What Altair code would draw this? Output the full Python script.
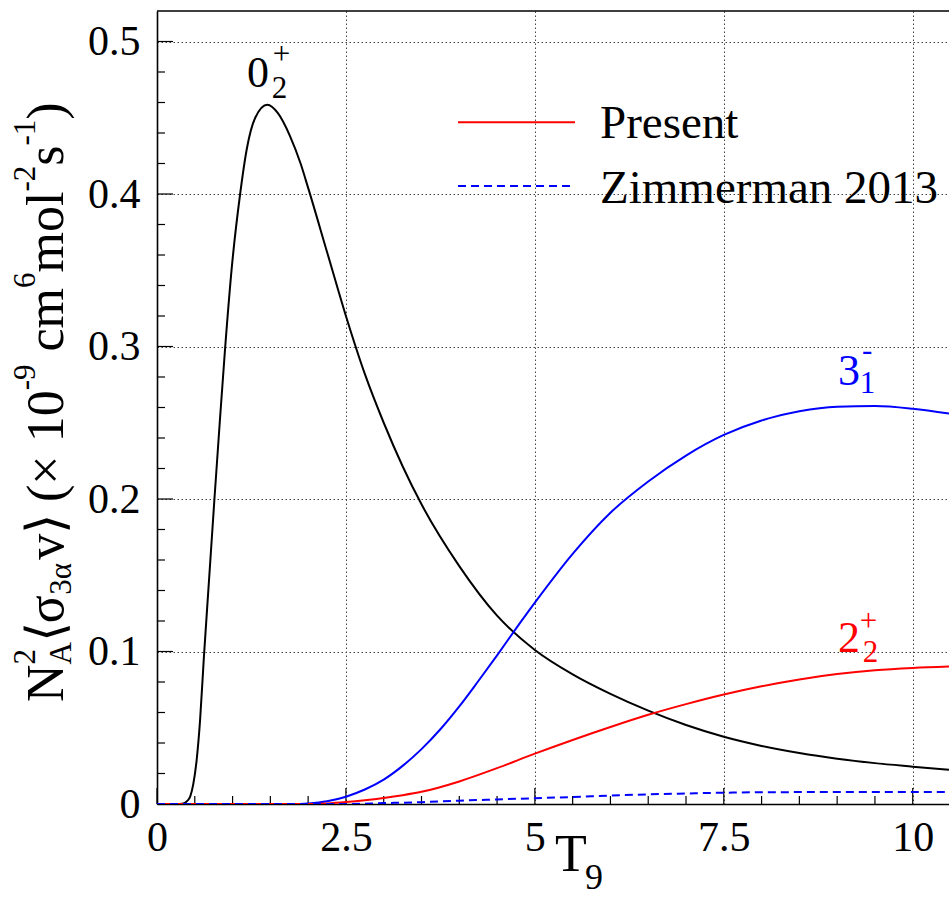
import altair as alt
import pandas as pd

SERIF = "Liberation Serif"

# Triple-alpha rate contributions versus temperature T9
t9_02 = [0.0, 0.30, 0.36, 0.40, 0.44, 0.48, 0.525, 0.57, 0.62, 0.69, 0.76, 0.83, 0.90,
         0.99, 1.10, 1.19, 1.30, 1.46, 1.60, 1.76, 1.90, 2.0, 2.25, 2.5, 2.75, 3.0, 3.25,
         3.5, 4.0, 4.5, 5.0, 5.5, 6.0, 6.5, 7.0, 7.5, 8.0, 8.5, 9.0, 9.5, 10.0, 10.48]
rate_02 = [0.0, 0.0, 0.0005, 0.002, 0.005, 0.013, 0.029, 0.055, 0.096, 0.148, 0.200, 0.250,
           0.298, 0.352, 0.400, 0.430, 0.450, 0.4585, 0.453, 0.438, 0.420, 0.404, 0.362,
           0.320, 0.282, 0.250, 0.2215, 0.1965, 0.156, 0.1235, 0.101, 0.0850, 0.0722,
           0.0612, 0.0518, 0.0441, 0.0381, 0.0334, 0.0297, 0.0268, 0.0245, 0.0224]

t9_31 = [0.0, 1.8, 2.0, 2.25, 2.5, 2.75, 3.0, 3.25, 3.5, 3.75, 4.0, 4.25, 4.5, 4.75, 5.0,
         5.5, 6.0, 6.5, 7.0, 7.5, 8.0, 8.5, 9.0, 9.5, 10.0, 10.48]
rate_31 = [0.0, 0.0, 0.0004, 0.0018, 0.0048, 0.0095, 0.0160, 0.0250, 0.0360, 0.0490,
           0.0640, 0.0805, 0.0975, 0.1150, 0.1320, 0.1640, 0.1910, 0.2115, 0.2285, 0.2420,
           0.2515, 0.2575, 0.2605, 0.2610, 0.2592, 0.2560]

t9_22 = [0.0, 2.0, 2.25, 2.5, 2.75, 3.0, 3.25, 3.5, 4.0, 4.5, 5.0, 5.5, 6.0, 6.5, 7.0, 7.5,
         8.0, 8.5, 9.0, 9.5, 10.0, 10.48]
rate_22 = [0.0, 0.0, 0.0004, 0.0013, 0.0025, 0.004, 0.0058, 0.008, 0.0148, 0.0235, 0.033,
           0.042, 0.0505, 0.0585, 0.0655, 0.0718, 0.0772, 0.0817, 0.0852, 0.0877, 0.0892,
           0.0901]

t9_z13 = [0.0, 2.5, 3.0, 3.5, 4.0, 4.5, 5.0, 5.5, 6.0, 6.5, 7.0, 7.5, 8.0, 8.5, 9.0, 10.0,
          10.48]
rate_z13 = [0.0, 0.0, 0.0006, 0.0012, 0.0022, 0.003, 0.0038, 0.0046, 0.0055, 0.0063,
            0.0069, 0.0074, 0.0077, 0.0078, 0.0079, 0.0079, 0.0079]

x_major = [0, 2.5, 5, 7.5, 10]
x_minor = [0.5, 1.0, 1.5, 2.0, 3.0, 3.5, 4.0, 4.5, 5.5, 6.0, 6.5, 7.0, 8.0, 8.5, 9.0, 9.5]
y_major = [0, 0.1, 0.2, 0.3, 0.4, 0.5]
y_minor = [0.02, 0.04, 0.06, 0.08, 0.12, 0.14, 0.16, 0.18, 0.22, 0.24, 0.26, 0.28,
           0.32, 0.34, 0.36, 0.38, 0.42, 0.44, 0.46, 0.48]

legend_names = ["Present", "Zimmerman 2013"]

W, H = 792, 793
XMAX, YMAX = 10.48, 0.52

x_scale = alt.Scale(domain=[0, XMAX], nice=False, zero=False)
y_scale = alt.Scale(domain=[0, YMAX], nice=False, zero=False)
one = pd.DataFrame({"k": [0]})

axis_common = dict(
    labelFont=SERIF, labelFontSize=42, labelColor="black", ticks=False,
    domainColor="black", domainWidth=1.6, grid=True, gridColor="#444",
    gridDash=[1.5, 2.5], gridWidth=1, title=None, labelOverlap=False,
    labelFlush=False, labelExpr="'' + datum.value",
)
x_axis = alt.Axis(values=x_major, labelPadding=13, **axis_common)
y_axis = alt.Axis(values=y_major, labelPadding=17, **axis_common)


def xq(field):
    return alt.X(field, type="quantitative", scale=x_scale, axis=x_axis)


def yq(field):
    return alt.Y(field, type="quantitative", scale=y_scale, axis=y_axis)


top_edge = alt.Chart(one).mark_rule(color="black", strokeWidth=1.6).encode(
    x=alt.value(0), x2=alt.value(W), y=alt.value(0))


def x_ticks(vals, length):
    return alt.Chart(pd.DataFrame({"v": vals})).mark_rule(color="black", strokeWidth=1.2).encode(
        x=xq("v"), y=alt.value(H), y2=alt.value(H - length))


def y_ticks(vals, length):
    return alt.Chart(pd.DataFrame({"v": vals})).mark_rule(color="black", strokeWidth=1.2).encode(
        y=yq("v"), x=alt.value(0), x2=alt.value(length))


def curve(xs, ys, color, dash=None):
    props = dict(color=color, strokeWidth=2, interpolate="monotone", clip=True)
    if dash:
        props["strokeDash"] = dash
    return alt.Chart(pd.DataFrame({"T9": xs, "rate": ys})).mark_line(**props).encode(
        x=xq("T9"), y=yq("rate"))


def data_text(text, x, y, size, color):
    return alt.Chart(pd.DataFrame({"x": [x], "y": [y], "t": [text]})).mark_text(
        align="left", baseline="alphabetic", font=SERIF, fontSize=size, color=color
    ).encode(x=xq("x"), y=yq("y"), text="t:N")


def px_text(text, x, y, size, color="black", angle=0):
    props = dict(align="left", baseline="alphabetic", font=SERIF, fontSize=size, color=color)
    if angle:
        props["angle"] = angle
    return alt.Chart(one).mark_text(**props).encode(
        x=alt.value(x), y=alt.value(y), text=alt.value(text))


layers = [x_ticks(x_major, 16), x_ticks(x_minor, 8),
          y_ticks(y_major, 16), y_ticks(y_minor, 8),
          top_edge,
          curve(t9_02, rate_02, "black"),
          curve(t9_31, rate_31, "#0000ff"),
          curve(t9_22, rate_22, "#ff0000"),
          curve(t9_z13, rate_z13, "#0000ff", dash=[8, 5])]

# State labels beside their curves
layers += [
    data_text("0", 1.19, 0.4702, 44, "black"),
    data_text("2", 1.52, 0.4630, 31, "black"),
    data_text("+", 1.53, 0.4852, 31, "black"),
    data_text("3", 9.01, 0.2748, 44, "#0000ff"),
    data_text("1", 9.30, 0.2695, 31, "#0000ff"),
    data_text("-", 9.33, 0.2911, 31, "#0000ff"),
    data_text("2", 9.01, 0.0997, 44, "#ff0000"),
    data_text("2", 9.34, 0.0928, 31, "#ff0000"),
    data_text("+", 9.30, 0.1135, 31, "#ff0000"),
]

# Legend
layers += [
    alt.Chart(one).mark_rule(color="#ff0000", strokeWidth=2).encode(
        x=alt.value(301), x2=alt.value(418), y=alt.value(111.3)),
    alt.Chart(one).mark_rule(color="#0000ff", strokeWidth=2, strokeDash=[8, 5]).encode(
        x=alt.value(301), x2=alt.value(418), y=alt.value(175)),
    px_text(legend_names[0], 443, 127, 47),
    px_text(legend_names[1], 443, 191.7, 47),
]

# x-axis title: T_9
layers += [px_text("T", 398, 860, 52), px_text("9", 428, 878, 36)]

# y-axis title, laid out piece by piece along the rotated baseline
F_MAIN, F_SMALL = 52, 31
BASE_X = {"main": -94, "sup": -122, "sub": -86}
title_pieces = [  # text, role, advance (em of its own size)
    ("N", "main", 0.722),
    ("2", "sup", 0.0),
    ("A", "sub", 0.722),
    ("\u27e8", "main", 0.36),
    ("\u03c3", "main", 0.55),
    ("3\u03b1", "sub", 1.13),
    ("v", "main", 0.5),
    ("\u27e9", "main", 0.36),
    (" ", "main", 0.25),
    ("(", "main", 0.333),
    ("\u00d7", "main", 0.564),
    (" ", "main", 0.25),
    ("10", "main", 1.0),
    ("-9", "sup", 0.833),
    (" ", "main", 0.25),
    ("cm", "main", 1.222),
    ("6", "sup", 0.5),
    ("mol", "main", 1.556),
    ("-2", "sup", 0.833),
    ("s", "main", 0.389),
    ("-1", "sup", 0.833),
    (")", "main", 0.333),
]
cursor = 691.0
for text, role, adv in title_pieces:
    size = F_MAIN if role == "main" else F_SMALL
    if text.strip():
        layers.append(px_text(text, BASE_X[role], cursor, size, angle=270))
    cursor -= adv * size

chart = alt.layer(*layers).properties(
    width=W, height=H,
    padding={"left": 157, "top": 11, "right": 0, "bottom": 110},
    autosize=alt.AutoSizeParams(type="none"),
).configure_view(stroke=None).configure_axis(labelFont=SERIF, labelFontSize=42)

chart.save("out.html", embed_options={"renderer": "svg", "actions": False})
